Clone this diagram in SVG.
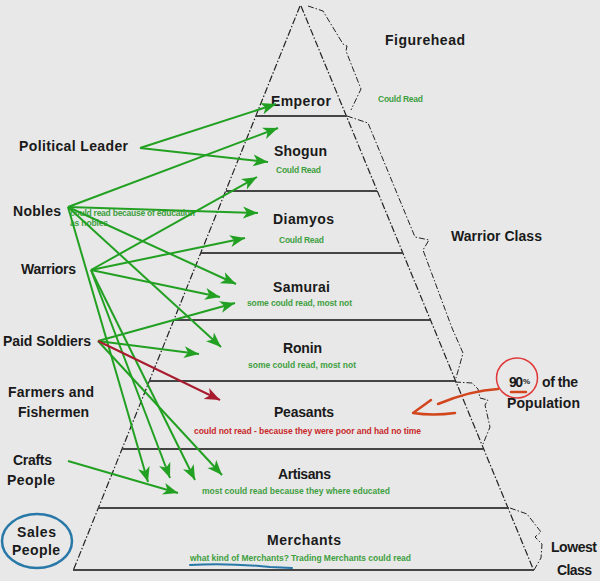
<svg xmlns="http://www.w3.org/2000/svg" width="600" height="581" viewBox="0 0 600 581">
<defs>
<style>
.lbl{font-family:"Liberation Sans",Arial,sans-serif;font-weight:bold;font-size:14px;fill:#1a1a1a}
.gn{font-family:"Liberation Sans",Arial,sans-serif;font-weight:bold;font-size:8.5px;fill:#3f9f3f}
.rd{font-family:"Liberation Sans",Arial,sans-serif;font-weight:bold;font-size:8.5px;fill:#c8282a}
.edge{fill:none;stroke:#222;stroke-width:1.2;stroke-dasharray:7 2 1.5 2}
.brk{fill:none;stroke:#222;stroke-width:1;stroke-dasharray:6 2 1.5 2}
.tier{stroke:#454545;stroke-width:1.8}
.ga{fill:none;stroke:#22a022;stroke-width:2;marker-end:url(#gh)}
.ra{fill:none;stroke:#a81c30;stroke-width:2;marker-end:url(#rh)}
</style>
<marker id="gh" markerUnits="userSpaceOnUse" markerWidth="16" markerHeight="14" refX="15" refY="6" orient="auto" viewBox="0 0 16 12">
<path d="M0,0 L15,6 L0,12 L4,6 z" fill="#22a022"/>
</marker>
<marker id="rh" markerUnits="userSpaceOnUse" markerWidth="16" markerHeight="14" refX="15" refY="6" orient="auto" viewBox="0 0 16 12">
<path d="M0,0 L15,6 L0,12 L4,6 z" fill="#a81c30"/>
</marker>
</defs>
<rect width="600" height="581" fill="#e8e8e8"/>

<g id="pyramid">
<line class="edge" x1="300" y1="6" x2="73" y2="571"/>
<line class="edge" x1="301" y1="6" x2="534" y2="571"/>
<line class="tier" x1="256" y1="116" x2="347" y2="116"/>
<line class="tier" x1="226" y1="191" x2="377" y2="191"/>
<line class="tier" x1="201" y1="253" x2="403" y2="253"/>
<line class="tier" x1="174" y1="320" x2="430" y2="320"/>
<line class="tier" x1="149" y1="381" x2="455" y2="381"/>
<line class="tier" x1="122" y1="449" x2="483" y2="449"/>
<line class="tier" x1="98" y1="508" x2="509" y2="508"/>
<line class="tier" x1="73" y1="570" x2="534" y2="570"/>
</g>

<g id="brackets">
<path class="brk" d="M308,6 L323,11 L343,44 L347,46 L346,51 L361,89 L351,110"/>
<path class="brk" d="M347,116 L368,123 L415,237 L429,240 L423,250 L452,328 L463,353 L460,364 L456,378"/>
<path class="brk" d="M455,382 L472,383 L478,389 L480,398 L488,400 L485,405 L490,427 L483,444"/>
<path class="brk" d="M510,508 L527,514 L534,523 L541,532 L535,537 L542,544 L541,558 L534,570"/>
</g>

<g id="emperor">
<text class="lbl" x="271" y="106" textLength="60">Emperor</text>
<text class="gn" x="378" y="102" textLength="45">Could Read</text>
</g>
<g id="shogun">
<text class="lbl" x="274" y="156" textLength="53">Shogun</text>
<text class="gn" x="276" y="173" textLength="45">Could Read</text>
</g>
<g id="diamyos">
<text class="lbl" x="273" y="224" textLength="61">Diamyos</text>
<text class="gn" x="279" y="243" textLength="45">Could Read</text>
</g>
<g id="samurai">
<text class="lbl" x="273" y="292" textLength="57">Samurai</text>
<text class="gn" x="247" y="306" textLength="105">some could read, most not</text>
</g>
<g id="ronin">
<text class="lbl" x="283" y="353" textLength="39">Ronin</text>
<text class="gn" x="248" y="368" textLength="108">some could read, most not</text>
</g>
<g id="peasants">
<text class="lbl" x="274" y="417" textLength="60">Peasants</text>
<text class="rd" x="194" y="434" textLength="227">could not read - because they were poor and had no time</text>
</g>
<g id="artisans">
<text class="lbl" x="278" y="479" textLength="53">Artisans</text>
<text class="gn" x="202" y="494" textLength="188">most could read because they where educated</text>
</g>
<g id="merchants">
<text class="lbl" x="267" y="545" textLength="74">Merchants</text>
<text class="gn" x="190" y="561" textLength="221">what kind of Merchants? Trading Merchants could read</text>
<path d="M190,565 C220,563 250,565 270,567 L292,568" fill="none" stroke="#2878a8" stroke-width="2" stroke-linecap="round"/>
</g>

<g id="figurehead"><text class="lbl" x="385" y="45" textLength="80">Figurehead</text></g>
<g id="warrior-class"><text class="lbl" x="451" y="241" textLength="91">Warrior Class</text></g>
<g id="lowest-class">
<text class="lbl" x="551" y="552" textLength="46">Lowest</text>
<text class="lbl" x="557" y="575" textLength="35">Class</text>
</g>
<g id="population">
<ellipse cx="517" cy="378" rx="20.5" ry="20" fill="none" stroke="#e03838" stroke-width="1.5"/>
<text class="lbl" x="509" y="387" textLength="14">90</text>
<text class="lbl" x="523" y="384" style="font-size:8px" textLength="12">%</text>
<text class="lbl" x="542" y="387" textLength="36">of the</text>
<text class="lbl" x="507" y="408" textLength="73">Population</text>
<line x1="511" y1="392" x2="526" y2="392" stroke="#d2461e" stroke-width="2.5" stroke-linecap="round"/>
</g>

<g id="political-leader"><text class="lbl" x="19" y="151" textLength="109">Political Leader</text></g>
<g id="nobles">
<text class="lbl" x="13" y="216" textLength="48">Nobles</text>
<text class="gn" x="70" y="216" textLength="125">could read because of education</text>
<text class="gn" x="70" y="226" textLength="38">as nobles</text>
</g>
<g id="warriors"><text class="lbl" x="21" y="274" textLength="55">Warriors</text></g>
<g id="paid-soldiers"><text class="lbl" x="3" y="346" textLength="88">Paid Soldiers</text></g>
<g id="farmers">
<text class="lbl" x="8" y="397" textLength="86">Farmers and</text>
<text class="lbl" x="18" y="417" textLength="71">Fishermen</text>
</g>
<g id="crafts">
<text class="lbl" x="13" y="465" textLength="39">Crafts</text>
<text class="lbl" x="7" y="485" textLength="48">People</text>
</g>
<g id="sales">
<ellipse cx="37" cy="541" rx="35" ry="27" fill="none" stroke="#2878a8" stroke-width="2.5"/>
<text class="lbl" x="17" y="537" textLength="39">Sales</text>
<text class="lbl" x="12" y="555" textLength="48">People</text>
</g>

<g id="connectors">
<path class="ga" d="M140,148 L276,104"/>
<path class="ga" d="M140,148 L268,162"/>
<path class="ga" d="M68,207 L278,128"/>
<path class="ga" d="M68,207 L258,213"/>
<path class="ga" d="M68,207 L236,284"/>
<path class="ga" d="M68,207 L221,347"/>
<path class="ga" d="M68,207 L148,482"/>
<path class="ga" d="M91,270 L257,177"/>
<path class="ga" d="M91,270 L245,238"/>
<path class="ga" d="M91,270 L220,297"/>
<path class="ga" d="M91,270 L170,478"/>
<path class="ga" d="M91,270 L195,480"/>
<path class="ga" d="M98,341 L235,303"/>
<path class="ga" d="M98,341 L199,354"/>
<path class="ga" d="M98,341 L222,475"/>
<path class="ra" d="M98,341 L220,400"/>
<path class="ga" d="M68,461 L178,493"/>
<path d="M498,389 C478,390 455,397 438,404" fill="none" stroke="#d2461e" stroke-width="2.5" stroke-linecap="round"/>
<path d="M431,400 L413,413 Q433,416 455,413" fill="none" stroke="#d2461e" stroke-width="2.5" stroke-linecap="round" stroke-linejoin="round"/>
</g>
</svg>
